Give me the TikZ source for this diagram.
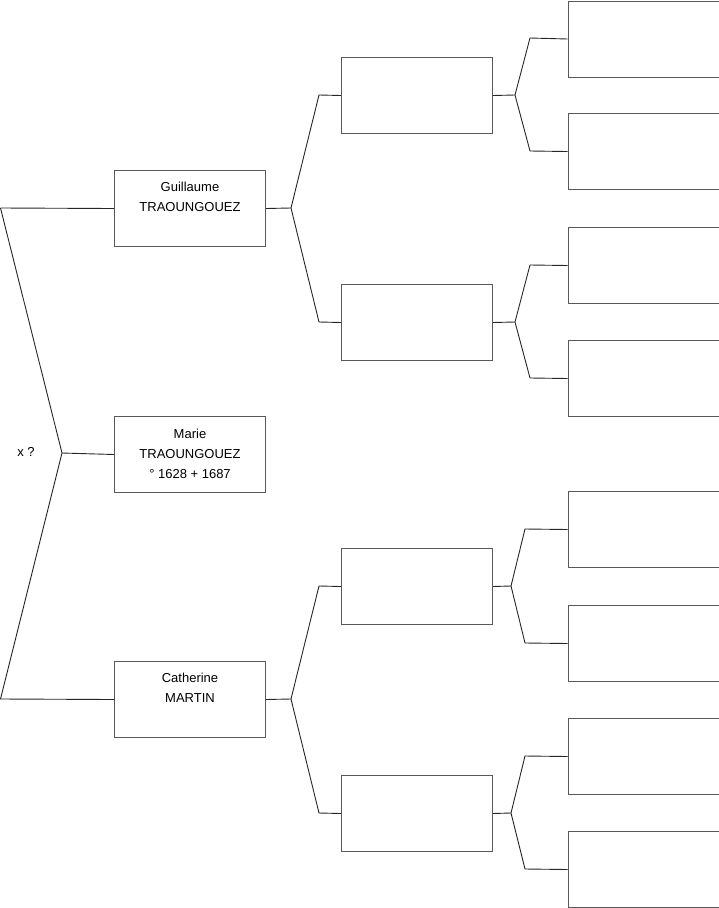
\documentclass[tikz,border=0pt]{standalone}
\usepackage{fontspec}
\setmainfont{Liberation Sans}
\begin{document}
\begin{tikzpicture}[x=1pt,y=-1pt,
  pbox/.style={draw=black!65, line width=1pt, minimum width=151pt, minimum height=76pt, inner sep=0pt, anchor=north west},
  ptext/.style={anchor=north, align=center, inner sep=0pt, font=\fontsize{13}{20}\selectfont},
  conn/.style={draw=black!85, line width=0.9pt}]
\useasboundingbox (0,0) rectangle (719,908);
% generation 1
\node[pbox] (g) at (114,170) {};
\node[pbox] (m) at (114,416) {};
\node[pbox] (c) at (114,661) {};
\node[ptext] (gt) at ([yshift=-12pt]g.north) {Guillaume\\TRAOUNGOUEZ};
\node[ptext] (mt) at ([yshift=-13pt]m.north) {Marie\\TRAOUNGOUEZ\\° 1628 + 1687};
\node[ptext] (ct) at ([yshift=-12pt]c.north) {Catherine\\MARTIN};
% generation 2
\node[pbox] (a1) at (341,57) {};
\node[pbox] (a2) at (341,284) {};
\node[pbox] (a3) at (341,548) {};
\node[pbox] (a4) at (341,775) {};
% generation 3
\node[pbox] (b1) at (567.5,0.5) {};
\node[pbox] (b2) at (567.5,113) {};
\node[pbox] (b3) at (567.5,227) {};
\node[pbox] (b4) at (567.5,340) {};
\node[pbox] (b5) at (567.5,491) {};
\node[pbox] (b6) at (567.5,605) {};
\node[pbox] (b7) at (567.5,718) {};
\node[pbox] (b8) at (567.5,831) {};
% left fork
\coordinate (lt) at (0.5,208);
\coordinate (lb) at (0.5,699);
\coordinate (lf) at (62,453);
\node[font=\fontsize{13}{15}\selectfont, inner sep=0pt] (xq) at (26,452) {x ?};
\draw[conn] (lt) -- (g.west);
\draw[conn] (lt) -- (lf) -- (lb) -- (c.west);
\draw[conn] (lf) -- (m.west);
% gen1 -> gen2
\coordinate (fg) at (291,208);
\coordinate (fc) at (291,699);
\draw[conn] (g.east) -- (fg);
\draw[conn] (fg) -- (319,95) -- (a1.west);
\draw[conn] (fg) -- (319,322) -- (a2.west);
\draw[conn] (c.east) -- (fc);
\draw[conn] (fc) -- (319,586) -- (a3.west);
\draw[conn] (fc) -- (319,813) -- (a4.west);
% gen2 -> gen3
\coordinate (f1) at (515,95);
\coordinate (f2) at (515,322);
\coordinate (f3) at (511,586);
\coordinate (f4) at (511,813);
\draw[conn] (a1.east) -- (f1);
\draw[conn] (f1) -- (530,38) -- (b1.west);
\draw[conn] (f1) -- (530,151) -- (b2.west);
\draw[conn] (a2.east) -- (f2);
\draw[conn] (f2) -- (530,265) -- (b3.west);
\draw[conn] (f2) -- (530,378) -- (b4.west);
\draw[conn] (a3.east) -- (f3);
\draw[conn] (f3) -- (525,529) -- (b5.west);
\draw[conn] (f3) -- (525,643) -- (b6.west);
\draw[conn] (a4.east) -- (f4);
\draw[conn] (f4) -- (525,756) -- (b7.west);
\draw[conn] (f4) -- (525,869) -- (b8.west);
\end{tikzpicture}
\end{document}
